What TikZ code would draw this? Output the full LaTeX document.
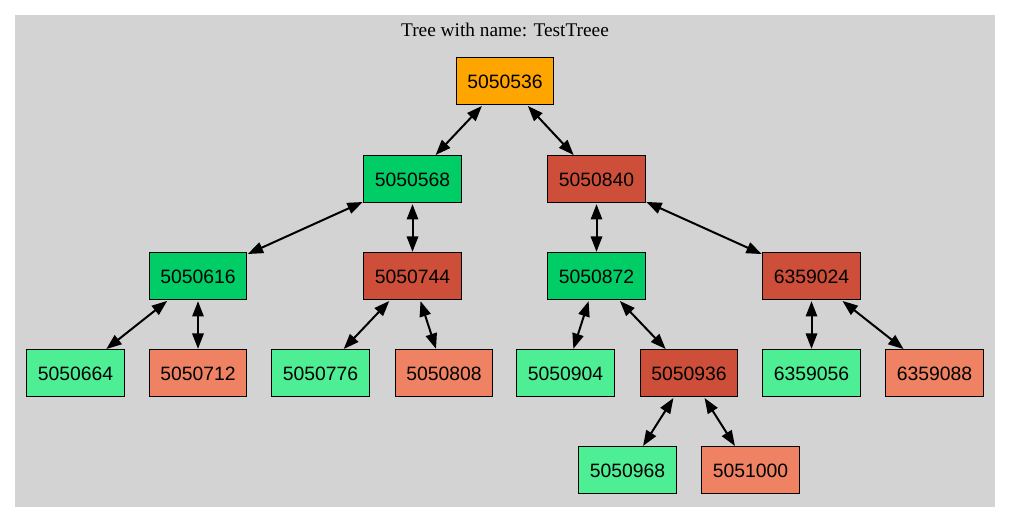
\documentclass[tikz,border=0pt]{standalone}
\usepackage{fontspec}
\setmainfont{Liberation Serif}
\newfontfamily\boxfont{Liberation Sans}
\usetikzlibrary{arrows.meta}
\definecolor{cOrange}{HTML}{FFA500}
\definecolor{cGreen}{HTML}{00CD66}
\definecolor{cLight}{HTML}{4EEE94}
\definecolor{cRed}{HTML}{CD4F39}
\definecolor{cSalmon}{HTML}{EE8262}
\definecolor{cBg}{HTML}{D3D3D3}
\tikzset{
  tnode/.style={draw=black, line width=0.75pt, minimum width=73pt, minimum height=35.25pt,
    inner sep=0pt, font=\boxfont\fontsize{14.5pt}{16pt}\selectfont},
  troot/.style={tnode, fill=cOrange},
  tgreen/.style={tnode, fill=cGreen},
  tlight/.style={tnode, fill=cLight},
  tred/.style={tnode, fill=cRed},
  tsalmon/.style={tnode, fill=cSalmon},
  link/.style={line width=1.5pt, {Triangle[length=11.5pt,width=8.5pt]}-{Triangle[length=11.5pt,width=8.5pt]}, shorten <=0.5pt, shorten >=0.5pt}
}
\begin{document}
\begin{tikzpicture}[x=0.75pt, y=-0.75pt]
\useasboundingbox (0,0) rectangle (1011,523);
\fill[white] (0,0) rectangle (1011,523);
\fill[cBg] (15,15) rectangle (995,507);
\node[font=\fontsize{14.5pt}{16pt}\selectfont] (title) at (505,30) {Tree with name: TestTreee};
\node[troot] (n536) at (505,81.5) {5050536};
\node[tgreen] (n568) at (412.5,179.5) {5050568};
\node[tred] (n840) at (596.5,179.5) {5050840};
\node[tgreen] (n616) at (198,276.5) {5050616};
\node[tred] (n744) at (412.5,276.5) {5050744};
\node[tgreen] (n872) at (596.5,276.5) {5050872};
\node[tred] (n024) at (811.5,276.5) {6359024};
\node[tlight] (n664) at (75.5,373.5) {5050664};
\node[tsalmon] (n712) at (198,373.5) {5050712};
\node[tlight] (n776) at (320.5,373.5) {5050776};
\node[tsalmon] (n808) at (444,373.5) {5050808};
\node[tlight] (n904) at (565.5,373.5) {5050904};
\node[tred] (n936) at (689,373.5) {5050936};
\node[tlight] (n056) at (811.5,373.5) {6359056};
\node[tsalmon] (n088) at (934.5,373.5) {6359088};
\node[tlight] (n968) at (627.5,470.5) {5050968};
\node[tsalmon] (n000) at (750.5,470.5) {5051000};
\draw[link] (n536) -- (n568);
\draw[link] (n536) -- (n840);
\draw[link] (n568) -- (n616);
\draw[link] (n568) -- (n744);
\draw[link] (n840) -- (n872);
\draw[link] (n840) -- (n024);
\draw[link] (n616) -- (n664);
\draw[link] (n616) -- (n712);
\draw[link] (n744) -- (n776);
\draw[link] (n744) -- (n808);
\draw[link] (n872) -- (n904);
\draw[link] (n872) -- (n936);
\draw[link] (n024) -- (n056);
\draw[link] (n024) -- (n088);
\draw[link] (n936) -- (n968);
\draw[link] (n936) -- (n000);
\end{tikzpicture}
\end{document}
